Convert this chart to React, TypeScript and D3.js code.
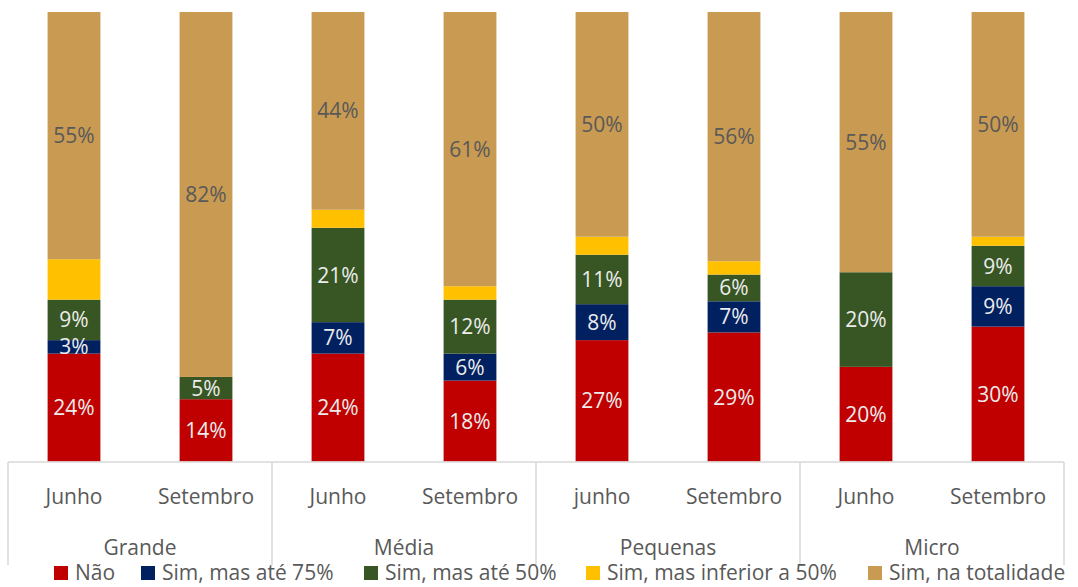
import React from "react";
import * as d3 from "d3";

const groups = ["Grande", "Média", "Pequenas", "Micro"];
const periods = ["Junho", "Setembro", "Junho", "Setembro", "junho", "Setembro", "Junho", "Setembro"];
const seriesNames = ["Não", "Sim, mas até 75%", "Sim, mas até 50%", "Sim, mas inferior a 50%", "Sim, na totalidade"];
const seriesColors = ["#C00000", "#002060", "#375623", "#FFC000", "#C99A52"];
// values per bar (percent), in order of seriesNames
const nao = [24, 14, 24, 18, 27, 29, 20, 30];
const ate75 = [3, 0, 7, 6, 8, 7, 0, 9];
const ate50 = [9, 5, 21, 12, 11, 6, 20, 9];
const inferior50 = [9, 0, 4, 3, 4, 3, 0, 2];
const totalidade = [55, 82, 44, 61, 50, 56, 55, 50];
const showLabel = [true, true, true, false, true];
const legendX = [54, 141, 364, 586, 868];

const W = 1078, H = 587;
const FONT = "'Open Sans', 'Segoe UI', sans-serif";

export default function App() {
  const series = [nao, ate75, ate50, inferior50, totalidade];
  const x = d3.scaleBand<number>().domain(d3.range(8)).range([8, 1064]).paddingInner(0.6).paddingOuter(0.3);
  const y = d3.scaleLinear().domain([0, 1]).range([461.5, 12]);
  const step = x.step();

  const bars = d3.range(8).map((i) => {
    const total = d3.sum(series, (s) => s[i]);
    let acc = 0;
    return series.map((s, k) => {
      const v0 = acc / total;
      acc += s[i];
      const v1 = acc / total;
      return { k, v: s[i], v0, v1 };
    });
  });

  return (
    <svg width={W} height={H} style={{ position: "absolute", left: 0, top: 0, fontFamily: FONT }}>
      <rect width={W} height={H} fill="#fff" />
      {bars.map((segs, i) => (
        <g key={i}>
          {segs.filter((s) => s.v > 0).map((s) => (
            <rect key={s.k} x={x(i)} width={x.bandwidth()} y={y(s.v1)} height={y(s.v0) - y(s.v1)} fill={seriesColors[s.k]} />
          ))}
          {segs.filter((s) => s.v > 0 && showLabel[s.k]).map((s) => (
            <text key={"t" + s.k} x={x(i)! + x.bandwidth() / 2} y={(y(s.v0) + y(s.v1)) / 2} dy="0.36em"
              textAnchor="middle" fontSize={21} fill={s.k === 4 ? "#595959" : "#ECECEC"}>
              {d3.format(".0%")(s.v / 100)}
            </text>
          ))}
        </g>
      ))}
      {/* category axis */}
      <line x1={8} x2={1064} y1={462} y2={462} stroke="#D9D9D9" strokeWidth={1.5} />
      {d3.range(5).map((g) => {
        const xx = g === 4 ? 1064 : 8 + g * step * 2;
        return <line key={g} x1={xx} x2={xx} y1={462} y2={565} stroke="#D9D9D9" strokeWidth={1.5} />;
      })}
      {periods.map((p, i) => (
        <text key={i} x={x(i)! + x.bandwidth() / 2} y={504} textAnchor="middle" fontSize={21} fill="#595959">{p}</text>
      ))}
      {groups.map((g, j) => (
        <text key={g} x={8 + step * (2 * j + 1)} y={555} textAnchor="middle" fontSize={21} fill="#595959">{g}</text>
      ))}
      {seriesNames.map((n, k) => (
        <g key={n}>
          <rect x={legendX[k]} y={566} width={14} height={14} fill={seriesColors[k]} />
          <text x={legendX[k] + 21} y={580} fontSize={21} fill="#595959">{n}</text>
        </g>
      ))}
    </svg>
  );
}
